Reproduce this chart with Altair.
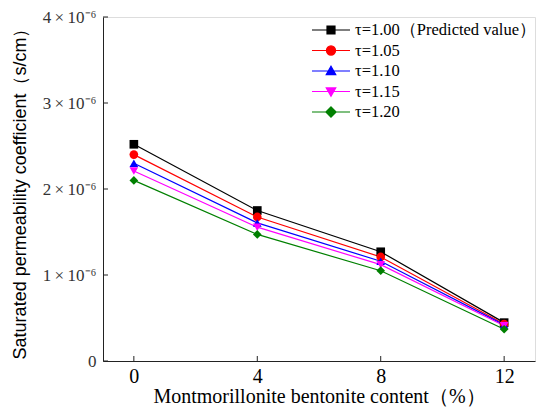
import altair as alt
import pandas as pd

contents = [0, 4, 8, 12]
series = ["τ=1.00（Predicted value）", "τ=1.05", "τ=1.10", "τ=1.15", "τ=1.20"]
v100 = [2.52e-6, 1.75e-6, 1.27e-6, 0.446e-6]
v105 = [2.40e-6, 1.675e-6, 1.21e-6, 0.43e-6]
v110 = [2.30e-6, 1.606e-6, 1.16e-6, 0.42e-6]
v115 = [2.21e-6, 1.556e-6, 1.12e-6, 0.41e-6]
v120 = [2.10e-6, 1.472e-6, 1.05e-6, 0.369e-6]
y_ticks = [0, 1e-6, 2e-6, 3e-6, 4e-6]
colors = ["#000000", "#ff0000", "#0000ff", "#ff00ff", "#008000"]
shapes = ["square", "circle", "triangle-up", "triangle-down", "diamond"]

# legend symbols: line segment plus marker (unit coords, scaled by 19px)
legend_paths = [
    "M-1,0H1M-0.21,-0.21H0.21V0.21H-0.21Z",
    "M-1,0H1M-0.24,0A0.24,0.24 0 1,0 0.24,0A0.24,0.24 0 1,0 -0.24,0Z",
    "M-1,0H1M0,-0.25L0.25,0.19L-0.25,0.19Z",
    "M-1,0H1M0,0.25L0.25,-0.19L-0.25,-0.19Z",
    "M-1,0H1M0,-0.27L0.27,0L0,0.27L-0.27,0Z",
]

rows = []
for name, vals in zip(series, [v100, v105, v110, v115, v120]):
    for c, v in zip(contents, vals):
        rows.append({"content": c, "k": v, "series": name})
df = pd.DataFrame(rows)
xt = pd.DataFrame({"content": contents})
yt = pd.DataFrame({"k": y_ticks})

W, H = 432, 344
serif = "Liberation Serif"
sans = "Liberation Sans"
axis_col = "#222222"

xs = alt.Scale(domain=[-1, 13], nice=False, zero=False)
ys = alt.Scale(domain=[0, 4e-6], nice=False)

x = alt.X("content:Q", scale=xs,
          axis=alt.Axis(values=contents, title="Montmorillonite bentonite content（%）",
                        labelFont=serif, labelFontSize=20, titleFont=serif, titleFontSize=20,
                        ticks=False, labelPadding=5, titlePadding=0))
y = alt.Y("k:Q", scale=ys,
          axis=alt.Axis(values=y_ticks,
                        labelExpr="datum.value == 0 ? '0' : round(datum.value*1e6) + '\u2009×\u200910⁻⁶'",
                        title="Saturated permeability coefficient（s/cm）",
                        labelFont=serif, labelFontSize=17, titleFont=sans,
                        titleFontSize=18, ticks=False, labelPadding=7, titlePadding=13,
                        labelColor="#333333"))

cscale = alt.Scale(domain=series, range=colors)

# inward tick marks
xticks = alt.Chart(xt).mark_rule(color=axis_col, strokeWidth=1).encode(
    x=alt.X("content:Q", scale=xs), y=alt.value(H), y2=alt.value(H - 5))
yticks = alt.Chart(yt).mark_rule(color=axis_col, strokeWidth=1).encode(
    y=alt.Y("k:Q", scale=ys), x=alt.value(0), x2=alt.value(5))

lines = alt.Chart(df).mark_line(strokeWidth=1.2).encode(
    x=x, y=y, color=alt.Color("series:N", scale=cscale, legend=None),
    detail="series:N")

points = alt.Chart(df).mark_point(filled=True, size=75, opacity=1).encode(
    x=x, y=y,
    color=alt.Color("series:N", scale=cscale, legend=None),
    shape=alt.Shape("series:N", scale=alt.Scale(domain=series, range=shapes), legend=None))

leg = alt.Legend(title=None, orient="none", legendX=208, legendY=3, labelFont=serif,
                 labelFontSize=16.5, symbolSize=1444, clipHeight=20, rowPadding=0.5,
                 labelOffset=4, symbolStrokeWidth=1.2, symbolOpacity=1, padding=0,
                 labelColor="#000", labelLimit=300)

legend_layer = alt.Chart(df).transform_filter("false").mark_point(filled=True, opacity=1).encode(
    x=x, y=y,
    fill=alt.Fill("series:N", scale=alt.Scale(domain=series, range=colors), legend=leg),
    stroke=alt.Stroke("series:N", scale=alt.Scale(domain=series, range=colors), legend=leg),
    shape=alt.Shape("series:N", scale=alt.Scale(domain=series, range=legend_paths), legend=leg))

chart = alt.layer(lines, points, xticks, yticks, legend_layer).resolve_scale(
    shape="independent", fill="independent", stroke="independent"
).properties(
    width=W, height=H, autosize=alt.AutoSizeParams(type="none"),
    padding={"left": 95, "top": 9, "right": 7, "bottom": 46}
).configure_view(stroke=None).configure(background="white").configure_axis(
    grid=False, titleFontWeight="normal", domainColor=axis_col,
    labelColor="#000", titleColor="#000"
)

chart.save("out.html", embed_options={"renderer": "svg", "actions": False})
